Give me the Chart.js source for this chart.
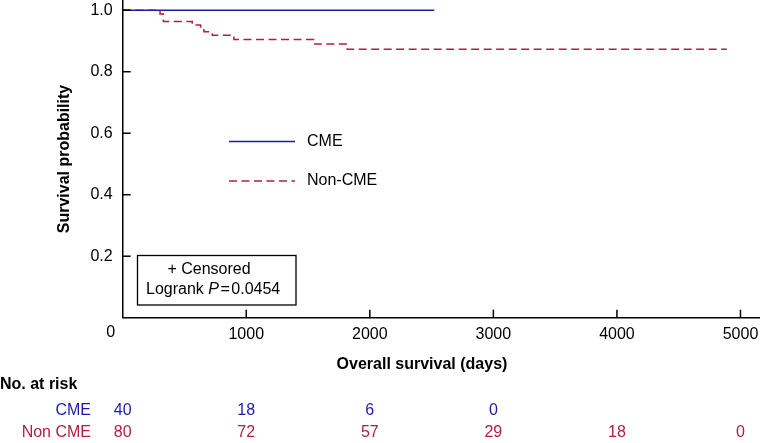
<!DOCTYPE html>
<html>
<head>
<meta charset="utf-8">
<script src="https://cdn.jsdelivr.net/npm/chart.js@4.4.1/dist/chart.umd.min.js"></script>
<style>
html,body{margin:0;padding:0;background:#fff;}
#wrap{width:760px;height:443px;}
</style>
</head>
<body>
<div id="wrap"><canvas id="c" width="760" height="443"></canvas></div>
<script>
// ---- data ----
const cmeDays = [0, 2522];
const cmeSurv = [1, 1];
const nonDays = [0, 302, 329, 563, 631, 657, 725, 900, 1547, 1817, 4890];
const nonSurv = [1, 0.988, 0.963, 0.952, 0.941, 0.930, 0.919, 0.905, 0.890, 0.873, 0.873];
const xTickValues = [0, 1000, 2000, 3000, 4000, 5000];
const yTickValues = [0.2, 0.4, 0.6, 0.8, 1.0];
const seriesNames = ['CME', 'Non-CME'];
const riskTimes = [0, 1000, 2000, 3000, 4000, 5000];
const riskCME = [40, 18, 6, 0];
const riskNon = [80, 72, 57, 29, 18, 0];
const riskRowNames = ['CME', 'Non CME'];
const pValueText = '0.0454';

const BLUE = '#1c1ca8';
const RED = '#b0203e';
const FONT = "'Liberation Sans', Arial, Helvetica, sans-serif";

const toPts = (xs, ys) => xs.map((x, i) => ({x: x, y: ys[i]}));

const extras = {
  id: 'extras',
  afterDraw(chart) {
    const ctx = chart.ctx;
    const xs = chart.scales.x, ys = chart.scales.y;
    const area = chart.chartArea;
    ctx.save();
    // inward tick marks
    ctx.strokeStyle = '#000';
    ctx.lineWidth = 1.5;
    yTickValues.forEach(v => {
      const py = ys.getPixelForValue(v);
      ctx.beginPath(); ctx.moveTo(area.left, py); ctx.lineTo(area.left + 8, py); ctx.stroke();
    });
    xTickValues.filter(v => v > 0).forEach(v => {
      const px = xs.getPixelForValue(v);
      ctx.beginPath(); ctx.moveTo(px, area.bottom); ctx.lineTo(px, area.bottom - 8); ctx.stroke();
    });
    // origin label
    ctx.fillStyle = '#000';
    ctx.font = '16px ' + FONT;
    ctx.textAlign = 'center'; ctx.textBaseline = 'middle';
    ctx.fillText('0', area.left - 12, 333);

    // axis titles
    ctx.font = 'bold 16px ' + FONT;
    ctx.fillText('Overall survival (days)', 422, 365);
    ctx.save();
    ctx.translate(65, 159);
    ctx.rotate(-Math.PI / 2);
    ctx.fillText('Survival probability', 0, 0);
    ctx.restore();

    // legend
    const ds = chart.data.datasets;
    const legY = [141.5, 181];
    ds.forEach((d, i) => {
      ctx.strokeStyle = d.borderColor;
      ctx.lineWidth = 1.5;
      ctx.setLineDash(d.borderDash || []);
      ctx.beginPath(); ctx.moveTo(229, legY[i]); ctx.lineTo(295, legY[i]); ctx.stroke();
      ctx.setLineDash([]);
      ctx.fillStyle = '#000';
      ctx.font = '16px ' + FONT;
      ctx.textAlign = 'left';
      ctx.fillText(d.label, 307, legY[i]);
    });

    // censor / p-value box
    ctx.strokeStyle = '#000';
    ctx.lineWidth = 1.3;
    ctx.strokeRect(137.5, 255.5, 158.5, 49.5);
    ctx.fillStyle = '#000';
    ctx.font = '16px ' + FONT;
    ctx.textAlign = 'center';
    ctx.fillText('+ Censored', 209, 270);
    ctx.textAlign = 'left';
    let tx = 146;
    const t1 = 'Logrank ';
    ctx.fillText(t1, tx, 290); tx += ctx.measureText(t1).width;
    ctx.font = 'italic 16px ' + FONT;
    ctx.fillText('P', tx, 290); tx += ctx.measureText('P').width + 1.5;
    ctx.font = '16px ' + FONT;
    ctx.fillText('=', tx, 290); tx += ctx.measureText('=').width + 1.5;
    ctx.fillText(pValueText, tx, 290);

    // number at risk table
    ctx.font = 'bold 16px ' + FONT;
    ctx.textAlign = 'left';
    ctx.fillStyle = '#000';
    ctx.fillText('No. at risk', 0, 385);
    ctx.font = '16px ' + FONT;
    ctx.textAlign = 'right';
    ctx.fillStyle = BLUE; ctx.fillText(riskRowNames[0], 91, 411);
    ctx.fillStyle = RED; ctx.fillText(riskRowNames[1], 91, 433);
    ctx.textAlign = 'center';
    ctx.fillStyle = BLUE;
    riskCME.forEach((n, i) => ctx.fillText(String(n), xs.getPixelForValue(riskTimes[i]), 411));
    ctx.fillStyle = RED;
    riskNon.forEach((n, i) => ctx.fillText(String(n), xs.getPixelForValue(riskTimes[i]), 433));
    ctx.restore();
  }
};

function zeroPad(s) { s.paddingTop = 0; s.paddingBottom = 0; s.paddingLeft = 0; s.paddingRight = 0; }

new Chart(document.getElementById('c'), {
  type: 'line',
  data: {
    datasets: [
      {label: seriesNames[0], data: toPts(cmeDays, cmeSurv), borderColor: BLUE, borderWidth: 1.5,
       stepped: true, pointRadius: 0, fill: false},
      {label: seriesNames[1], data: toPts(nonDays, nonSurv), borderColor: RED, borderWidth: 1.5,
       borderDash: [8, 4.5], stepped: true, pointRadius: 0, fill: false}
    ]
  },
  options: {
    responsive: false,
    animation: false,
    devicePixelRatio: 1,
    layout: {padding: 0},
    plugins: {legend: {display: false}, tooltip: {enabled: false}},
    scales: {
      x: {
        type: 'linear', min: 0, max: 5158,
        afterFit(s) { s.height = 125.3; zeroPad(s); },
        afterBuildTicks(s) { s.ticks = xTickValues.map(v => ({value: v})); },
        grid: {display: false, drawTicks: false},
        border: {display: true, color: '#000', width: 1.5},
        ticks: {color: '#000', font: {family: FONT, size: 16}, padding: 7, maxRotation: 0,
                callback: v => v === 0 ? '' : String(v)}
      },
      y: {
        type: 'linear', min: 0, max: 1.0333,
        afterFit(s) { s.width = 122.7; zeroPad(s); },
        afterBuildTicks(s) { s.ticks = yTickValues.map(v => ({value: v})); },
        grid: {display: false, drawTicks: false},
        border: {display: true, color: '#000', width: 1.5},
        ticks: {color: '#000', font: {family: FONT, size: 16}, padding: 10,
                callback: v => v.toFixed(1)}
      }
    }
  },
  plugins: [extras]
});
</script>
</body>
</html>
